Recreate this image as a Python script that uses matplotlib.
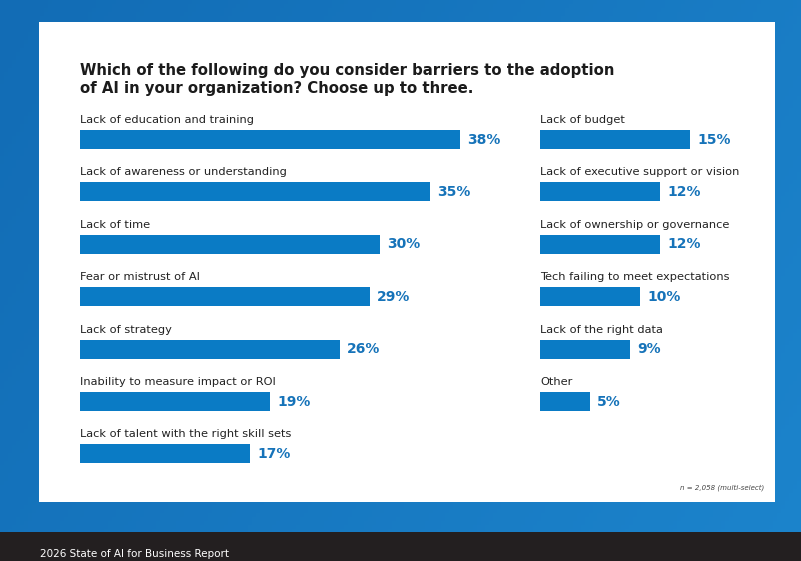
import numpy as np
import matplotlib
matplotlib.use("Agg")
import matplotlib.pyplot as plt
from matplotlib.patches import Rectangle

# ---- data ----
left_labels = ["Lack of education and training", "Lack of awareness or understanding",
               "Lack of time", "Fear or mistrust of AI", "Lack of strategy",
               "Inability to measure impact or ROI", "Lack of talent with the right skill sets"]
left_values = [38, 35, 30, 29, 26, 19, 17]
right_labels = ["Lack of budget", "Lack of executive support or vision",
                "Lack of ownership or governance", "Tech failing to meet expectations",
                "Lack of the right data", "Other"]
right_values = [15, 12, 12, 10, 9, 5]
title = "Which of the following do you consider barriers to the adoption\nof AI in your organization? Choose up to three."
note = "n = 2,058 (multi-select)"
footer = "2026 State of AI for Business Report"

W, H = 801, 561
BAR = "#0a7bc5"
VAL = "#1673b9"
FONT = "DejaVu Sans"

fig = plt.figure(figsize=(W / 100, H / 100), dpi=100)

def fx(px):
    return px / W

def fy(py):
    return 1 - py / H

# background gradient
bg = fig.add_axes([0, 0, 1, 1])
xx = np.linspace(0, 1, 200)
yy = np.linspace(0, 1, 140)
X, Y = np.meshgrid(xx, yy)
c0 = np.array([0x12, 0x6c, 0xb5]) / 255
c1 = np.array([0x1c, 0x84, 0xcc]) / 255
t = np.clip(0.7 * X + 0.3 * Y, 0, 1)[..., None]
img = c0 * (1 - t) + c1 * t
bg.imshow(img, extent=[0, 1, 0, 1], aspect="auto", origin="upper")
bg.set_xlim(0, 1)
bg.set_ylim(0, 1)
bg.axis("off")
# card
bg.add_patch(Rectangle((fx(39), fy(502)), fx(775) - fx(39), fy(22) - fy(502),
                       facecolor="white", edgecolor="none", zorder=2))
# footer band
bg.add_patch(Rectangle((0, 0), 1, fy(532), facecolor="#231f20", edgecolor="none", zorder=2))
bg.text(fx(40), fy(554), footer, color="white", fontsize=7.5, family=FONT,
        va="center", ha="left", zorder=3)
bg.text(fx(80), fy(79), title, color="#1b1b1b", fontsize=10.7, fontweight="bold",
        family=FONT, va="center", ha="left", linespacing=1.25, zorder=3)
bg.text(fx(764), fy(488), note, color="#444444", fontsize=5, style="italic",
        family=FONT, va="center", ha="right", zorder=3)

ROW = 52.4
Y0 = 139.5
top_px = Y0 - 0.75 * ROW
bot_px = Y0 + 6.75 * ROW

def panel(x0_px, x1_px, labels, values):
    width_px = x1_px - x0_px
    ax = fig.add_axes([fx(x0_px), fy(bot_px), width_px / W, (bot_px - top_px) / H])
    ax.set_xlim(0, width_px / 10.0)
    ax.set_ylim(6.75, -0.75)
    ax.axis("off")
    ypos = np.arange(len(values))
    ax.barh(ypos, values, height=19 / ROW, color=BAR, left=0)
    for i, (lab, v) in enumerate(zip(labels, values)):
        ax.text(0, i - 19.5 / ROW, lab, fontsize=8.2, family=FONT, color="#222222",
                va="center", ha="left")
        ax.annotate(f"{v}%", (v, i), xytext=(5, 0), textcoords="offset points",
                    fontsize=10, fontweight="bold", family=FONT, color=VAL,
                    va="center", ha="left")
    return ax

panel(80, 530, left_labels, left_values)
panel(540, 770, right_labels, right_values)

fig.savefig("out.png", dpi=100)
